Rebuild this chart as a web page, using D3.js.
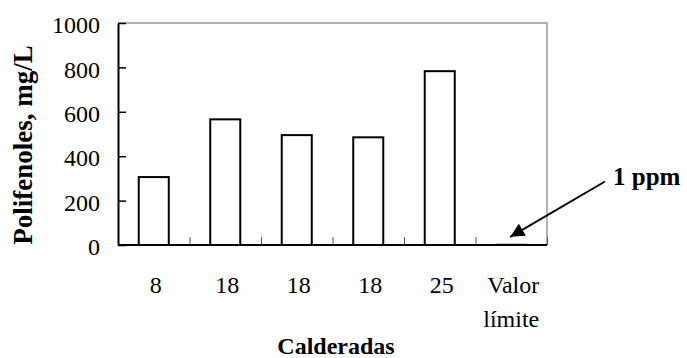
<!DOCTYPE html>
<html><head><meta charset="utf-8">
<script src="https://cdn.jsdelivr.net/npm/d3@7/dist/d3.min.js"></script>
<style>body{margin:0;background:#fff;} svg{display:block;}</style>
</head><body>
<svg id="chart" width="687" height="358"></svg>
<script>
const categories = ["8", "18", "18", "18", "25", "Valor límite"];
const values = [306, 566, 495, 485, 783, 1];
const yTicks = [0, 200, 400, 600, 800, 1000];
const yTitle = "Polifenoles, mg/L";
const xTitle = "Calderadas";
const note = "1 ppm";

const svg = d3.select("#chart");
const m = {left: 118, top: 23, right: 547, bottom: 245};
const font = '"Liberation Serif"';

const keys = categories.map((c, i) => i);
const x = d3.scaleBand().domain(keys).range([m.left, m.right]).paddingInner(0.58).paddingOuter(0.29);
const xEdge = d3.scaleLinear().domain([0, categories.length]).range([m.left, m.right]);
const y = d3.scaleLinear().domain([0, 1000]).range([m.bottom, m.top]);

// plot border (top, right)
svg.append("path")
  .attr("d", `M${m.left},${m.top}H${m.right}V${m.bottom}`)
  .attr("fill", "none").attr("stroke", "#999").attr("stroke-width", 1.5);

// bars
svg.append("g").selectAll("rect").data(values).join("rect")
  .attr("x", (d, i) => x(i))
  .attr("y", d => y(d))
  .attr("width", x.bandwidth())
  .attr("height", d => y(0) - y(d))
  .attr("fill", "#fff").attr("stroke", "#000").attr("stroke-width", 2);

// x boundary ticks
const gxt = svg.append("g").attr("transform", `translate(0,${m.bottom})`)
  .call(d3.axisBottom(xEdge).tickValues(d3.range(1, categories.length + 1)).tickSize(-8).tickFormat(""));
gxt.select(".domain").remove();
gxt.selectAll("line").attr("stroke", "#555").attr("stroke-width", 1);

// x axis line + labels
const gx = svg.append("g").attr("transform", `translate(0,${m.bottom})`)
  .call(d3.axisBottom(x).tickSize(0).tickPadding(31).tickFormat(i => categories[i]));
gx.attr("font-family", font).attr("font-size", 24);
gx.select(".domain").attr("stroke", "#000").attr("stroke-width", 2).attr("d", `M${m.left},0H${m.right}`);
gx.selectAll("text").attr("fill", "#000").attr("dx", 2)
  .each(function(i) {
    const t = d3.select(this);
    const parts = categories[i].split(" ");
    if (parts.length > 1) {
      t.text(null);
      parts.forEach((p, k) => t.append("tspan").attr("x", 0).attr("dy", k === 0 ? "0.71em" : 34).text(p));
    }
  });

// y axis
const gy = svg.append("g").attr("transform", `translate(${m.left},0)`)
  .call(d3.axisLeft(y).tickValues(yTicks).tickFormat(d3.format("d")).tickSizeInner(-8).tickSizeOuter(0).tickPadding(18));
gy.attr("font-family", font).attr("font-size", 24);
gy.select(".domain").attr("stroke", "#000").attr("stroke-width", 2);
gy.selectAll(".tick line").attr("stroke", "#000").attr("stroke-width", 1.5);
gy.selectAll("text").attr("fill", "#000").attr("dy", "0.4em");

// y title
svg.append("text")
  .attr("transform", `translate(32,145) rotate(-90)`)
  .attr("text-anchor", "middle")
  .attr("font-family", font).attr("font-weight", "bold").attr("font-size", 27)
  .text(yTitle);

// x title
svg.append("text")
  .attr("x", 336).attr("y", 354)
  .attr("text-anchor", "middle")
  .attr("font-family", font).attr("font-weight", "bold").attr("font-size", 24)
  .text(xTitle);

// annotation
const defs = svg.append("defs");
defs.append("marker").attr("id", "ah").attr("viewBox", "0 0 10 10")
  .attr("refX", 10).attr("refY", 5).attr("markerWidth", 9).attr("markerHeight", 7)
  .attr("markerUnits", "strokeWidth").attr("orient", "auto")
  .append("path").attr("d", "M0,0L10,5L0,10Z").attr("fill", "#000");

const lastX = x(categories.length - 1) + x.bandwidth() / 2;
svg.append("line")
  .attr("x1", 605).attr("y1", 181.5)
  .attr("x2", lastX - 1).attr("y2", y(values[values.length - 1]) - 8)
  .attr("stroke", "#000").attr("stroke-width", 2)
  .attr("marker-end", "url(#ah)");

svg.append("text")
  .attr("x", 613).attr("y", 185)
  .attr("font-family", font).attr("font-weight", "bold").attr("font-size", 25)
  .text(note);
</script>
</body></html>
